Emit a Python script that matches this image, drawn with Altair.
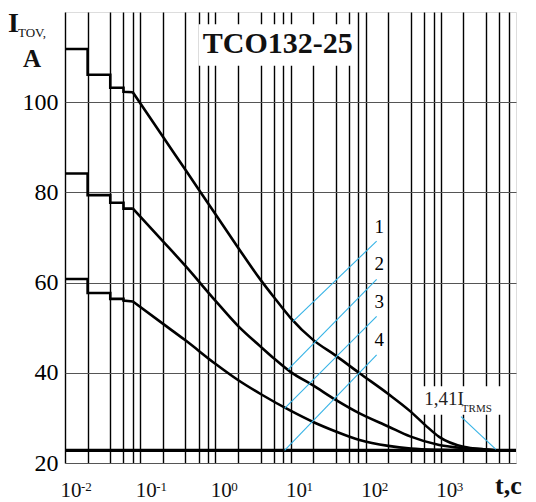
import altair as alt
import pandas as pd

# ---- data ----
t1 = [0.01, 0.02, 0.02, 0.04, 0.04, 0.06, 0.06, 0.08, 0.2, 0.4, 1, 2, 4, 6, 10, 20, 40, 83, 200, 390, 620, 950, 2000, 4000, 5400]
i1 = [111.8, 111.8, 106.1, 106.1, 103.2, 103.2, 102.3, 102.2, 92.4, 85.0, 75.2, 67.8, 60.6, 56.8, 52.2, 47.3, 43.8, 39.9, 35.3, 31.5, 28.4, 25.8, 23.6, 23.0, 22.8]

t2 = [0.01, 0.02, 0.02, 0.04, 0.04, 0.06, 0.06, 0.08, 0.2, 0.4, 1, 2, 4, 6, 10, 20, 40, 83, 200, 390, 950, 2000, 4000, 5400]
i2 = [84.2, 84.2, 79.4, 79.4, 77.7, 77.7, 76.4, 76.4, 69.2, 63.7, 56.0, 50.4, 45.8, 43.2, 40.2, 37.2, 34.0, 31.0, 28.1, 25.9, 24.0, 23.3, 23.0, 22.8]

t3 = [0.01, 0.02, 0.02, 0.04, 0.04, 0.06, 0.06, 0.08, 0.2, 0.4, 1, 2, 4, 10, 20, 40, 83, 200, 400, 1000, 2000]
i3 = [60.8, 60.8, 57.7, 57.7, 56.4, 56.4, 56.0, 55.8, 50.9, 47.2, 42.0, 38.4, 35.3, 31.6, 29.1, 27.0, 25.1, 23.8, 23.2, 22.9, 22.8]

t4 = [0.01, 10000]
i4 = [22.8, 22.8]

grid_t = [0.01, 0.02, 0.04, 0.06, 0.08,
          0.1, 0.2, 0.4, 0.6, 0.8,
          1, 2, 4, 6, 8,
          10, 20, 40, 60, 80,
          100, 200, 400, 600, 800,
          1000, 2000, 4000, 6000, 8000]
y_ticks = [20, 40, 60, 80, 100]
decades = [0.01, 0.1, 1, 10, 100, 1000]
decade_exp = ["-2", "-1", "0", "1", "2", "3"]

lead_t0 = [10.8, 9.25, 8.35, 8.35]
lead_i0 = [51.4, 40.7, 32.1, 22.8]
lead_t1 = [140, 140, 140, 140]
lead_i1 = [69.2, 60.7, 52.5, 44.0]
lead_text = ["1", "2", "3", "4"]
lead_text_t = [152, 152, 152, 152]
lead_text_i = [71.1, 62.9, 54.4, 46.0]

trms_t = [1854, 5400]
trms_i = [30.3, 23.0]

title_text = "TCO132-25"
title_box_t = [0.60, 74.8]
title_box_i = [108.1, 117.3]
title_pos = [6.77, 112.8]

note_box_t = [573, 7710]
note_box_i = [30.7, 37.0]

FONT = "Liberation Serif"
BLUE = "#35b3e6"

xs = alt.Scale(type="log", domain=[0.01, 10000])
ys = alt.Scale(domain=[20, 120])
x_axis = alt.Axis(values=grid_t, grid=True, gridColor="black", gridWidth=1.4,
                  labels=False, ticks=False, domain=False, title=None)
y_axis = alt.Axis(values=y_ticks, grid=True, gridColor="#555555", gridWidth=1.2,
                  ticks=False, domain=False, title=None, labelFont=FONT,
                  labelFontSize=24, labelColor="black", labelPadding=7)


def X(f="t"):
    return alt.X(f + ":Q", scale=xs, axis=x_axis)


def Y(f="i"):
    return alt.Y(f + ":Q", scale=ys, axis=y_axis)


step_rows, smooth_rows = [], []
for cid, (ts, iv) in enumerate([(t1, i1), (t2, i2), (t3, i3)]):
    cut = ts.index(0.08)
    for k, (a, b) in enumerate(zip(ts, iv)):
        if k <= cut:
            step_rows.append({"curve": cid, "k": k, "t": a, "i": b})
        if k >= cut:
            smooth_rows.append({"curve": cid, "k": k, "t": a, "i": b})

steps = alt.Chart(pd.DataFrame(step_rows)).mark_line(
    color="black", strokeWidth=2.6, strokeJoin="miter").encode(
    x=X(), y=Y(), detail="curve:N", order="k:Q")
smooth = alt.Chart(pd.DataFrame(smooth_rows)).mark_line(
    color="black", strokeWidth=2.6, interpolate="monotone").encode(
    x=X(), y=Y(), detail="curve:N", order="k:Q")

base_df = pd.DataFrame({"t": t4, "i": i4})
base_line = alt.Chart(base_df).mark_line(color="black", strokeWidth=3.2).encode(x=X(), y=Y())

lead_df = pd.DataFrame({"t": lead_t0, "i": lead_i0, "t2": lead_t1, "i2": lead_i1,
                        "lab": lead_text, "lt": lead_text_t, "li": lead_text_i})
leaders = alt.Chart(lead_df).mark_rule(color=BLUE, strokeWidth=1.1).encode(
    x=X(), y=Y(), x2="t2:Q", y2="i2:Q")
lead_labels = alt.Chart(lead_df).mark_text(font=FONT, fontSize=19, color="black",
                                           baseline="alphabetic").encode(
    x=X("lt"), y=Y("li"), text="lab:N")

trms_df = pd.DataFrame({"t": [trms_t[0]], "i": [trms_i[0]], "t2": [trms_t[1]], "i2": [trms_i[1]]})
trms_lead = alt.Chart(trms_df).mark_rule(color=BLUE, strokeWidth=1.1).encode(
    x=X(), y=Y(), x2="t2:Q", y2="i2:Q")

tbox_df = pd.DataFrame({"t": [title_box_t[0]], "t2": [title_box_t[1]],
                        "i": [title_box_i[0]], "i2": [title_box_i[1]]})
tbox = alt.Chart(tbox_df).mark_rect(color="white").encode(x=X(), x2="t2:Q", y=Y(), y2="i2:Q")
ttext = alt.Chart(pd.DataFrame({"t": [title_pos[0]], "i": [title_pos[1]], "s": [title_text]})).mark_text(
    font=FONT, fontSize=30, fontWeight="bold", color="#111", baseline="middle").encode(
    x=X(), y=Y(), text="s:N")

nbox_df = pd.DataFrame({"t": [note_box_t[0]], "t2": [note_box_t[1]],
                        "i": [note_box_i[0]], "i2": [note_box_i[1]]})
nbox = alt.Chart(nbox_df).mark_rect(color="white").encode(x=X(), x2="t2:Q", y=Y(), y2="i2:Q")
n1 = alt.Chart(pd.DataFrame({"t": [604], "i": [32.9], "s": ["1,41I"]})).mark_text(
    font=FONT, fontSize=19, color="#222", align="left", baseline="alphabetic").encode(
    x=X(), y=Y(), text="s:N")
n2 = alt.Chart(pd.DataFrame({"t": [1905], "i": [31.3], "s": ["TRMS"]})).mark_text(
    font=FONT, fontSize=11, color="#222", align="left", baseline="alphabetic").encode(
    x=X(), y=Y(), text="s:N")

dec_df = pd.DataFrame({"t": decades, "e": decade_exp, "s": ["10"] * len(decades)})
dec_base = alt.Chart(dec_df).mark_text(font=FONT, fontSize=21, color="#111",
                                       align="center", baseline="alphabetic", dx=6).encode(
    x=X(), y=alt.value(485), text="s:N")
dec_exp = alt.Chart(dec_df).mark_text(font=FONT, fontSize=13, color="#111",
                                      align="left", baseline="alphabetic", dx=16).encode(
    x=X(), y=alt.value(479), text="e:N")

ttl_I = alt.Chart(pd.DataFrame({"s": ["I"]})).mark_text(
    font=FONT, fontSize=28, fontWeight="bold", color="#111", align="left", baseline="alphabetic").encode(
    x=alt.value(-57), y=alt.value(20), text="s:N")
ttl_tov = alt.Chart(pd.DataFrame({"s": ["TOV,"]})).mark_text(
    font=FONT, fontSize=13, color="#111", align="left", baseline="alphabetic").encode(
    x=alt.value(-47), y=alt.value(24.5), text="s:N")
ttl_A = alt.Chart(pd.DataFrame({"s": ["A"]})).mark_text(
    font=FONT, fontSize=25, fontWeight="bold", color="#111", align="left", baseline="alphabetic").encode(
    x=alt.value(-42), y=alt.value(55), text="s:N")
ttl_t = alt.Chart(pd.DataFrame({"s": ["t,c"]})).mark_text(
    font=FONT, fontSize=26, fontWeight="bold", color="#111", align="left", baseline="alphabetic").encode(
    x=alt.value(430), y=alt.value(482), text="s:N")

chart = alt.layer(
    tbox, nbox, steps, smooth, base_line, leaders, trms_lead, lead_labels, ttext, n1, n2,
    dec_base, dec_exp, ttl_I, ttl_tov, ttl_A, ttl_t
).properties(
    width=451, height=451, autosize="none",
    padding={"left": 57, "top": 4, "right": 12, "bottom": 38}
).configure_view(stroke="black", strokeWidth=2.2).configure(background="white")

chart.save("out.html", embed_options={"renderer": "svg", "actions": False})
